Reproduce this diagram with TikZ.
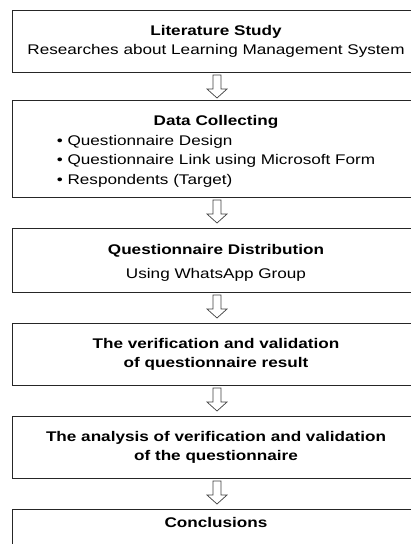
\documentclass[tikz,border=0pt]{standalone}
\usepackage{fontspec}
\usepackage{graphicx}
\setmainfont{Liberation Sans}
\usetikzlibrary{calc}
\newcommand{\wide}[1]{\scalebox{1.224}[1]{#1}}
\begin{document}
\begin{tikzpicture}[x=1pt,y=-1pt,
  stepbox/.style={draw=black!85, line width=0.8pt, fill=white, inner sep=0pt, outer sep=0pt,
    anchor=north west, minimum width=408pt, text=black,
    font=\fontsize{14}{19.5}\selectfont},
  blockarrow/.style={draw=black!75, line width=0.7pt, fill=white, line join=miter}]
\useasboundingbox (0,0) rectangle (411,544);
\clip (0,0) rectangle (411,544);

\node[stepbox, minimum height=62pt] (b1) at (12,10)
  {\wide{\begin{tabular}{@{}c@{}}\textbf{Literature Study}\\Researches about Learning Management System\end{tabular}}};

\node[stepbox, minimum height=97pt] (b2) at (12,100)
  {\raisebox{-2.5pt}[\height][\depth]{\wide{\begin{tabular}{@{}l@{}}\multicolumn{1}{@{}c@{}}{\textbf{Data Collecting}}\\
   • Questionnaire Design\\
   • Questionnaire Link using Microsoft Form\\
   • Respondents (Target)\end{tabular}}}};

\node[stepbox, minimum height=64pt] (b3) at (12,228)
  {\raisebox{-2.5pt}[\height][\depth]{\wide{\begin{tabular}{@{}c@{}}\textbf{Questionnaire Distribution}\\[4.5pt]Using WhatsApp Group\end{tabular}}}};

\node[stepbox, minimum height=62pt] (b4) at (12,323)
  {\wide{\begin{tabular}{@{}c@{}}\textbf{The verification and validation}\\\textbf{of questionnaire result}\end{tabular}}};

\node[stepbox, minimum height=62pt] (b5) at (12,416)
  {\wide{\begin{tabular}{@{}c@{}}\textbf{The analysis of verification and validation}\\\textbf{of the questionnaire}\end{tabular}}};

\node[stepbox, minimum height=62pt] (b6) at (12,509)
  {\raisebox{16pt}[\height][\depth]{\wide{\begin{tabular}{@{}c@{}}\textbf{Conclusions}\end{tabular}}}};

\foreach \a in {b1,b2,b3,b4,b5}{
  \draw[blockarrow] ($(\a.south)+(-3,3)$) -- ++(0,14) -- ++(-6,0) -- ++(10,9)
    -- ++(10,-9) -- ++(-6,0) -- ++(0,-14) -- cycle;
}
\end{tikzpicture}
\end{document}
